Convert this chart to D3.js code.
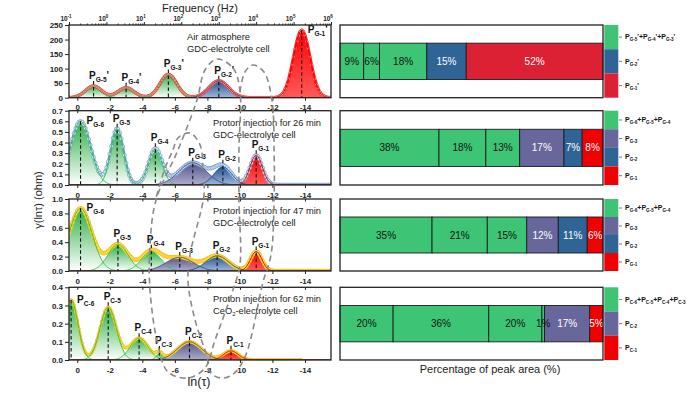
<!DOCTYPE html>
<html lang="en">
<head>
<meta charset="UTF-8">
<title>DRT peaks and peak area</title>
<style>
  body { margin: 0; background: #fff; }
  svg { font-family: "Liberation Sans", Arial, sans-serif; }
</style>
</head>
<body>
<script src="https://cdn.jsdelivr.net/npm/d3@7"></script>
<script>
// ---- data ----
const lnTicks = [0, -2, -4, -6, -8, -10, -12, -14];
const freqDecades = [-1, 0, 1, 2, 3, 4, 5, 6];

const yTicksAir = [0, 50, 100, 150, 200, 250];
const yTicks26 = [0, 0.1, 0.2, 0.3, 0.4, 0.5, 0.6, 0.7];
const yTicks47 = [0, 0.2, 0.4, 0.6, 0.8, 1.0];
const yTicks62 = [0, 0.1, 0.2, 0.3, 0.4];

// fitted DRT peaks: centre in ln(tau), peak height, width (sigma in ln(tau))
const peaksAir = [
  {id: "G-5'", group: "low", center: -1.0, height: 40, sigma: 0.5},
  {id: "G-4'", group: "low", center: -3.0, height: 34, sigma: 0.5},
  {id: "G-3'", group: "low", center: -5.6, height: 80, sigma: 0.52},
  {id: "G-2'", group: "G2'", center: -8.7, height: 58, sigma: 0.6},
  {id: "G-1'", group: "G1'", center: -13.8, height: 232, sigma: 0.5}
];
const peaks26 = [
  {id: "G-6", group: "low", center: -0.2, height: 0.6, sigma: 0.62},
  {id: "G-5", group: "low", center: -2.45, height: 0.53, sigma: 0.4},
  {id: "G-4", group: "low", center: -4.8, height: 0.34, sigma: 0.42},
  {id: "G-3", group: "G3", center: -7.1, height: 0.21, sigma: 0.85},
  {id: "G-2", group: "G2", center: -8.95, height: 0.17, sigma: 0.55},
  {id: "G-1", group: "G1", center: -11.0, height: 0.28, sigma: 0.38}
];
const peaks47 = [
  {id: "G-6", group: "low", center: -0.2, height: 0.87, sigma: 0.7},
  {id: "G-5", group: "low", center: -2.5, height: 0.37, sigma: 0.62},
  {id: "G-4", group: "low", center: -4.55, height: 0.27, sigma: 0.6},
  {id: "G-3", group: "G3", center: -6.3, height: 0.19, sigma: 0.85},
  {id: "G-2", group: "G2", center: -8.6, height: 0.21, sigma: 0.7},
  {id: "G-1", group: "G1", center: -11.0, height: 0.27, sigma: 0.35}
];
const peaks62 = [
  {id: "C-6", group: "low", center: 0.38, height: 0.33, sigma: 0.42},
  {id: "C-5", group: "low", center: -1.9, height: 0.29, sigma: 0.5},
  {id: "C-4", group: "low", center: -3.8, height: 0.12, sigma: 0.55},
  {id: "C-3", group: "low", center: -5.05, height: 0.035, sigma: 0.2},
  {id: "C-2", group: "C2", center: -6.9, height: 0.1, sigma: 0.75},
  {id: "C-1", group: "C1", center: -9.45, height: 0.05, sigma: 0.45}
];

const captionAir = ["Air atmosphere", "GDC-electrolyte cell"];
const caption26 = ["Proton injection for 26 min", "GDC-electrolyte cell"];
const caption47 = ["Proton injection for 47 min", "GDC-electrolyte cell"];
const caption62 = ["Proton injection for 62 min", "CeO2-electrolyte cell"];

// peak-area percentages, left to right
const barsAir = [{v: 9, group: "low"}, {v: 6, group: "low"}, {v: 18, group: "low"}, {v: 15, group: "G2'"}, {v: 52, group: "G1'"}];
const bars26 = [{v: 38, group: "low"}, {v: 18, group: "low"}, {v: 13, group: "low"}, {v: 17, group: "G3"}, {v: 7, group: "G2"}, {v: 8, group: "G1"}];
const bars47 = [{v: 35, group: "low"}, {v: 21, group: "low"}, {v: 15, group: "low"}, {v: 12, group: "G3"}, {v: 11, group: "G2"}, {v: 6, group: "G1"}];
const bars62 = [{v: 20, group: "low"}, {v: 36, group: "low"}, {v: 20, group: "low"}, {v: 1, group: "low"}, {v: 17, group: "C2"}, {v: 5, group: "C1"}];

const legendAir = [{group: "low", ids: ["G-5'", "G-4'", "G-3'"]}, {group: "G2'", ids: ["G-2'"]}, {group: "G1'", ids: ["G-1'"]}];
const legend26 = [{group: "low", ids: ["G-6", "G-5", "G-4"]}, {group: "G3", ids: ["G-3"]}, {group: "G2", ids: ["G-2"]}, {group: "G1", ids: ["G-1"]}];
const legend47 = [{group: "low", ids: ["G-6", "G-5", "G-4"]}, {group: "G3", ids: ["G-3"]}, {group: "G2", ids: ["G-2"]}, {group: "G1", ids: ["G-1"]}];
const legend62 = [{group: "low", ids: ["C-6", "C-5", "C-4", "C-3"]}, {group: "C2", ids: ["C-2"]}, {group: "C1", ids: ["C-1"]}];

// dashed guide loops drawn across the panels: [ln(tau), page y]
const guideA = [[-8.59, 59], [-9.57, 68], [-10.0, 90], [-9.94, 150], [-9.94, 200], [-10.0, 265], [-9.57, 290],
  [-8.47, 340], [-7.85, 368], [-6.81, 378], [-5.58, 372], [-4.96, 345], [-4.47, 290], [-4.47, 245],
  [-4.84, 200], [-6.19, 150], [-7.36, 100], [-7.85, 70]];
const guideB = [[-10.0, 92], [-10.31, 72], [-10.8, 65], [-11.48, 72], [-11.97, 100], [-12.1, 150], [-12.1, 200],
  [-11.91, 255], [-11.42, 282], [-10.31, 357], [-9.51, 375], [-8.78, 378], [-8.16, 372], [-7.98, 357],
  [-7.24, 320], [-6.81, 282], [-6.93, 255], [-7.79, 195], [-7.73, 172], [-7.55, 145], [-6.93, 133],
  [-6.19, 138], [-5.88, 150], [-5.4, 168], [-4.84, 198]];

// ---- styles ----
const barColor = {low: "#3dc474", "G2'": "#2f6496", "G1'": "#dc2134", G3: "#67679b", G2: "#2f6496", G1: "#f00000", C2: "#67679b", C1: "#f00000"};
const family = {low: "green", "G2'": "blue", "G1'": "red", G3: "purple", G2: "blue", G1: "red", C2: "purple", C1: "red"};
const fillStops = {green: ["#2aae45", "#ffffff"], blue: ["#23548f", "#9fb8dc"], purple: ["#54548a", "#aeaed0"], red: ["#ff0000", "#ff5a5a"]};
const lineCol = {green: "#2ec94c", blue: "#1d4b88", purple: "#4a4a7e", red: "#e60000"};
const measStyle = {
  red: {line: "#ff2020", lw: 3.2, fill: "#ffb0b0", stroke: "#ff3030", r: 1.4},
  blue: {line: "#6f97cf", lw: 2.5, fill: "#dce7f6", stroke: "#5f8cc9", r: 1.9},
  gold: {line: "#f6c21a", lw: 3.5, fill: "#ffe05a", stroke: "#f3b800", r: 1.9},
  gold2: {line: "#f6c21a", lw: 2.6, fill: "#ffe05a", stroke: "#f3b800", r: 1.5}
};

const W = 700, H = 394;
const plotL = 69, plotR = 331;
const boxL = 340, boxR = 603;

const panels = [
  {peaks: peaksAir, ticks: yTicksAir, max: 250, fmt: d => String(d), top: 25, bottom: 97.7, meas: "red", end: -15.6, caption: captionAir, capX: 187, bars: barsAir, legend: legendAir},
  {peaks: peaks26, ticks: yTicks26, max: 0.7, fmt: d3.format(".1f"), top: 110.7, bottom: 185, meas: "blue", end: -15.6, caption: caption26, capX: 213, bars: bars26, legend: legend26},
  {peaks: peaks47, ticks: yTicks47, max: 1.0, fmt: d3.format(".1f"), top: 199, bottom: 271, meas: "gold", end: -15.6, caption: caption47, capX: 213, bars: bars47, legend: legend47},
  {peaks: peaks62, ticks: yTicks62, max: 0.4, fmt: d3.format(".1f"), top: 287.3, bottom: 360, meas: "gold2", end: -13.8, caption: caption62, capX: 213, bars: bars62, legend: legend62}
];

const svg = d3.select("body").append("svg").attr("width", W).attr("height", H);
const defs = svg.append("defs");
Object.entries(fillStops).forEach(([k, [c1, c2]]) => {
  const g = defs.append("linearGradient").attr("id", "fill-" + k)
    .attr("x1", 0).attr("y1", 0).attr("x2", 0).attr("y2", 1);
  g.append("stop").attr("offset", "0%").attr("stop-color", c1);
  g.append("stop").attr("offset", "100%").attr("stop-color", c2);
});

const x = d3.scaleLinear().domain([0.51, -15.6]).range([plotL, plotR]);
const gauss = (p, t) => p.height * Math.exp(-((t - p.center) ** 2) / (2 * p.sigma * p.sigma));

// text "P" with subscript ids joined by "+"
function addPeakName(text, ids, fs, fsSub) {
  const off = fs * 0.3;
  let down = false;
  const push = (str, size, wantDown) => {
    const dy = wantDown === down ? 0 : (wantDown ? off : -off);
    down = wantDown;
    text.append("tspan").attr("font-size", size).attr("dy", dy).text(str);
  };
  ids.forEach((id, i) => {
    const prime = id.endsWith("'");
    push((i ? "+" : "") + "P", fs, false);
    push(prime ? id.slice(0, -1) : id, fsSub, true);
    if (prime) push("'", fs, false);
  });
}

panels.forEach((p, pi) => {
  const y = d3.scaleLinear().domain([0, p.max]).range([p.bottom, p.top]);
  const g = svg.append("g");
  const clipId = "clip" + pi;
  defs.append("clipPath").attr("id", clipId).append("rect")
    .attr("x", plotL).attr("y", p.top).attr("width", plotR - plotL).attr("height", p.bottom - p.top);
  const plot = g.append("g").attr("clip-path", `url(#${clipId})`);

  const grid = d3.range(0.51, -15.6, -0.04);
  const total = t => d3.sum(p.peaks, pk => gauss(pk, t));

  // peak fills
  const area = d3.area().x(d => x(d[0])).y0(y(0)).y1(d => y(d[1])).curve(d3.curveLinear);
  const line = d3.line().x(d => x(d[0])).y(d => y(d[1]));
  plot.selectAll("path.peak").data(p.peaks).join("path")
    .attr("class", "peak")
    .attr("d", pk => area(grid.filter(t => Math.abs(t - pk.center) < 4.2 * pk.sigma).map(t => [t, gauss(pk, t)])))
    .attr("fill", pk => `url(#fill-${family[pk.group]})`);

  // measured curve
  const ms = measStyle[p.meas];
  const measGrid = d3.range(0.6, p.end - 0.001, -0.1);
  const measPts = measGrid.map(t => [t, total(t)]);
  plot.append("path").attr("d", line(measPts)).attr("fill", "none")
    .attr("stroke", ms.line).attr("stroke-width", ms.lw).attr("stroke-linejoin", "round");
  plot.selectAll("circle.m").data(measPts).join("circle").attr("class", "m")
    .attr("cx", d => x(d[0])).attr("cy", d => y(d[1])).attr("r", ms.r)
    .attr("fill", ms.fill).attr("stroke", ms.stroke).attr("stroke-width", 0.6);

  // peak outlines (drawn over the full range, red last so it sits on the baseline)
  plot.selectAll("path.outline").data(p.peaks).join("path")
    .attr("class", "outline")
    .attr("d", pk => line(grid.map(t => [t, gauss(pk, t)])))
    .attr("fill", "none").attr("stroke", pk => lineCol[family[pk.group]]).attr("stroke-width", 1);

  // peak labels and dashed markers
  p.peaks.forEach(pk => {
    const cx = x(pk.center);
    const topY = y(Math.max(total(pk.center), pk.height));
    const right = topY - p.top < 15;
    const lx = right ? cx + 6 : cx - 4.5;
    const ly = right ? topY + 3 : topY - 7;
    g.append("line").attr("x1", cx).attr("x2", cx)
      .attr("y1", right ? topY : ly + 2).attr("y2", p.bottom)
      .attr("stroke", "#111").attr("stroke-width", 1.1).attr("stroke-dasharray", "3.5,2.5");
    const t = g.append("text").attr("x", lx).attr("y", ly).attr("font-weight", "bold").attr("fill", "#111");
    addPeakName(t, [pk.id], 10, 6.5);
  });

  // captions
  p.caption.forEach((c, i) => {
    const t = g.append("text").attr("x", p.capX).attr("y", p.top + 15 + i * 12)
      .attr("font-size", 9.3).attr("fill", "#222");
    if (c.startsWith("CeO2")) {
      t.append("tspan").text("CeO");
      t.append("tspan").attr("font-size", 6).attr("dy", 2).text("2");
      t.append("tspan").attr("dy", -2).text(c.slice(4));
    } else t.text(c);
  });

  // axes
  const yAxis = g.append("g").attr("transform", `translate(${plotL},0)`)
    .call(d3.axisLeft(y).tickValues(p.ticks).tickFormat(p.fmt).tickSize(4).tickPadding(2));
  const xAxis = g.append("g").attr("transform", `translate(0,${p.bottom})`)
    .call(d3.axisBottom(x).tickValues(lnTicks).tickFormat(d => String(d)).tickSize(3).tickPadding(4));
  [yAxis, xAxis].forEach(a => {
    a.select(".domain").remove();
    a.selectAll("line").attr("stroke", "#222").attr("stroke-width", 1);
    a.selectAll("text").attr("font-size", 8).attr("font-weight", "bold").attr("fill", "#222")
      .attr("font-family", "'Liberation Sans', Arial, sans-serif");
  });
  if (pi > 0) {
    const topAx = g.append("g").attr("transform", `translate(0,${p.top})`)
      .call(d3.axisTop(x).tickValues(lnTicks).tickFormat("").tickSize(-2.5));
    topAx.select(".domain").remove();
    topAx.selectAll("line").attr("stroke", "#222");
  }
  g.append("rect").attr("x", plotL).attr("y", p.top).attr("width", plotR - plotL).attr("height", p.bottom - p.top)
    .attr("fill", "none").attr("stroke", "#222").attr("stroke-width", 1.3);

  // ---- right: peak-area bar ----
  const bg = svg.append("g");
  const sum = d3.sum(p.bars, b => b.v);
  const bx = d3.scaleLinear().domain([0, sum]).range([boxL, boxR]);
  const h = p.bottom - p.top;
  const band = d3.scaleBand().domain(["a", "bar", "b"]).range([p.top, p.bottom]).paddingInner(0);
  const barTop = p.top + h * 0.25, barH = h * 0.5;
  bg.append("rect").attr("x", boxL).attr("y", p.top).attr("width", boxR - boxL).attr("height", h)
    .attr("fill", "#fff");
  let acc = 0;
  const segs = p.bars.map(b => { const s = {...b, x0: acc}; acc += b.v; return s; });
  bg.selectAll("rect.seg").data(segs).join("rect").attr("class", "seg")
    .attr("x", d => bx(d.x0)).attr("y", barTop).attr("width", d => bx(d.x0 + d.v) - bx(d.x0)).attr("height", barH)
    .attr("fill", d => barColor[d.group]).attr("stroke", "#1c1c1c").attr("stroke-width", 0.9);
  bg.selectAll("text.pct").data(segs).join("text").attr("class", "pct")
    .attr("x", d => bx(d.x0 + d.v / 2)).attr("y", barTop + barH / 2 + 3.6)
    .attr("text-anchor", "middle").attr("font-size", 10)
    .attr("fill", d => d.group === "low" ? "#111" : "#fff").text(d => d.v + "%");
  bg.append("rect").attr("x", boxL).attr("y", p.top).attr("width", boxR - boxL).attr("height", h)
    .attr("fill", "none").attr("stroke", "#222").attr("stroke-width", 1.3);

  // colour key strip
  const ky = d3.scaleBand().domain(p.legend.map((l, i) => i)).range([p.top, p.bottom]);
  p.legend.forEach((l, i) => {
    bg.append("rect").attr("x", boxR + 1.3).attr("y", ky(i)).attr("width", 14).attr("height", ky.bandwidth())
      .attr("fill", barColor[l.group]);
    const cy = ky(i) + ky.bandwidth() / 2;
    bg.append("line").attr("x1", 619).attr("x2", 622).attr("y1", cy).attr("y2", cy).attr("stroke", "#777");
    const t = bg.append("text").attr("x", 625).attr("y", cy + 2.2).attr("font-weight", "bold").attr("fill", "#111");
    addPeakName(t, l.ids, 7, 4.6);
  });
});

// ---- top frequency axis ----
const fx = d3.scaleLog().domain([0.1, 1e6]).range([plotL, plotR]);
const minors = [];
freqDecades.slice(0, -1).forEach(e => d3.range(2, 10).forEach(m => minors.push(m * 10 ** e)));
const fa = svg.append("g").attr("transform", `translate(0,${panels[0].top})`);
fa.call(d3.axisTop(fx).tickValues(freqDecades.map(e => 10 ** e)).tickFormat("").tickSize(3));
fa.append("g").call(d3.axisTop(fx).tickValues(minors).tickFormat("").tickSize(1.5));
fa.selectAll(".domain").remove();
fa.selectAll("line").attr("stroke", "#222");
freqDecades.forEach(e => {
  const t = svg.append("text").attr("x", fx(10 ** e) - 3).attr("y", 20.5).attr("text-anchor", "middle")
    .attr("font-size", 6.5).attr("font-weight", "bold").attr("fill", "#222");
  t.append("tspan").text("10");
  t.append("tspan").attr("font-size", 4.5).attr("dy", -3).text(e);
});

// ---- dashed guides ----
const guideLine = d3.line().x(d => x(d[0])).y(d => d[1]);
svg.append("path").attr("d", guideLine.curve(d3.curveCatmullRomClosed)(guideA))
  .attr("fill", "none").attr("stroke", "#8a8a8a").attr("stroke-width", 1.6).attr("stroke-dasharray", "6,4");
svg.append("path").attr("d", guideLine.curve(d3.curveCatmullRom)(guideB))
  .attr("fill", "none").attr("stroke", "#8a8a8a").attr("stroke-width", 1.6).attr("stroke-dasharray", "6,4");

// ---- titles ----
svg.append("text").attr("x", 200).attr("y", 12).attr("text-anchor", "middle").attr("font-size", 11)
  .attr("fill", "#222").text("Frequency (Hz)");
svg.append("text").attr("x", 199).attr("y", 386).attr("text-anchor", "middle").attr("font-size", 12.5)
  .attr("fill", "#222").text("ln(τ)");
svg.append("text").attr("transform", "translate(42,200) rotate(-90)").attr("text-anchor", "middle")
  .attr("font-size", 11).attr("fill", "#222").text("γ(lnτ) (ohm)");
svg.append("text").attr("x", 490).attr("y", 373).attr("text-anchor", "middle").attr("font-size", 11)
  .attr("fill", "#222").text("Percentage of peak area (%)");
</script>
</body>
</html>
